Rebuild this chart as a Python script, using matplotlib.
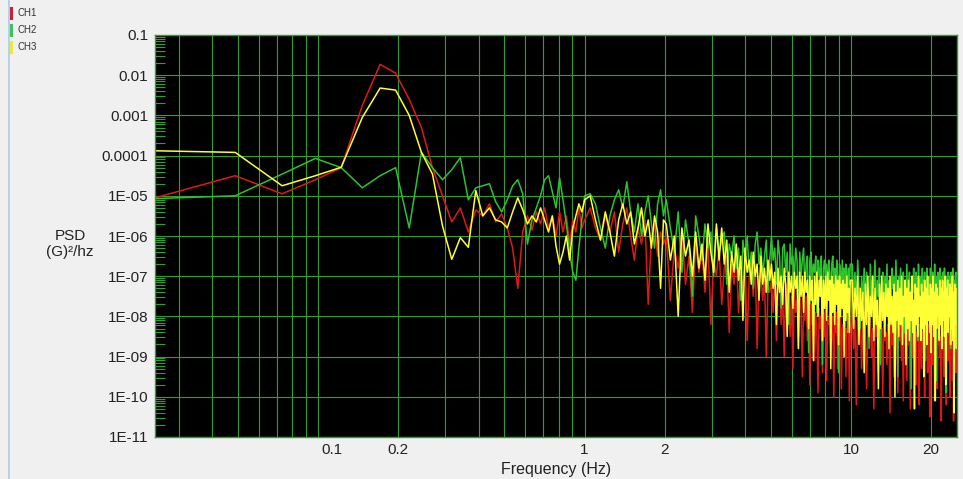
import numpy as np
import matplotlib
matplotlib.use("Agg")
import matplotlib.pyplot as plt
from matplotlib.lines import Line2D
from matplotlib.ticker import NullFormatter
from matplotlib.transforms import ScaledTranslation

plt.rcParams['font.family'] = ['Liberation Sans', 'DejaVu Sans']

# PSD bin width (Hz), 1024 bins up to 25 Hz
df = 25.0 / 1024

# bins drawn: every bin below 1 Hz, sparser above (the trace is a blur there anyway)
bins = np.concatenate([np.arange(1, 41), np.arange(41, 82, 2), np.arange(83, 204, 3),
                       np.arange(206, 408, 3), np.arange(414, 1025, 5)])

# log10 of PSD (G^2/Hz), one entry per drawn bin
ch1_log = [
    -5.05, -4.5, -4.95, -4.6, -4.3, -2.75, -1.73, -1.95, -2.6, -3.3,
    -4.3, -5.0, -5.65, -5.3, -5.9, -5.35, -5.5, -5.2, -5.65, -5.45,
    -5.8, -6.3, -7.3, -5.9, -5.5, -5.85, -5.4, -5.7, -5.3, -5.8,
    -5.5, -6.0, -5.4, -5.9, -5.5, -6.2, -5.6, -5.9, -5.3, -5.8,
    # 1-2 Hz
    -5.6, -5.3, -5.8, -6.1, -5.5, -5.9, -5.4, -6.4, -5.7, -5.3, -6.0,
    -6.6, -5.8, -6.2, -5.6, -7.7, -6.0, -5.7, -6.5, -5.9, -6.2,
    # 2-5 Hz
    -6.0, -7.6, -6.3, -6.8, -5.9, -7.2, -6.5, -7.9, -6.2, -6.9,
    -6.4, -7.4, -6.1, -8.2, -6.6, -7.0, -6.3, -7.7, -6.8, -6.5,
    -8.4, -6.7, -7.2, -6.4, -7.9, -6.9, -7.3, -6.6, -8.6, -7.0,
    -6.8, -7.5, -6.7, -8.8, -7.1, -6.9, -7.6, -7.0, -9.0, -7.2, -7.4,
    # 5-10 Hz
    -7.1, -7.9, -7.0, -8.6, -7.3, -7.0, -8.2, -7.4, -9.0, -7.2,
    -7.7, -7.1, -8.5, -7.5, -9.3, -7.3, -7.9, -7.6, -8.8, -7.4,
    -7.8, -9.5, -7.6, -8.1, -7.5, -8.6, -7.8, -9.7, -7.7, -8.2,
    -7.6, -9.1, -7.9, -8.4, -9.9, -7.8, -8.3, -8.0, -9.4, -7.9,
    -8.5, -7.8, -9.6, -8.1, -8.2, -7.9, -9.0, -8.3, -8.0, -10.0,
    -8.2, -8.4, -7.9, -9.3, -8.1, -8.6, -8.0, -9.8, -8.3, -8.2,
    -8.7, -8.0, -9.5, -8.3, -8.4, -8.1, -10.1, -8.3,
    # 10-25 Hz
    -7.9, -8.8, -8.1, -10.2, -7.8, -8.5, -8.0, -9.3, -8.2, -7.9,
    -8.6, -9.8, -8.1, -8.4, -8.0, -9.0, -8.3, -10.3, -8.1, -8.5,
    -8.2, -9.4, -8.0, -8.7, -8.3, -10.0, -8.1, -8.6, -8.4, -9.2,
    -8.2, -8.5, -10.4, -8.1, -8.7, -8.3, -9.5, -8.2, -8.4, -8.0,
    -9.9, -8.3, -8.6, -8.2, -9.1, -8.4, -10.1, -8.2, -8.5, -8.3,
    -9.6, -8.1, -8.7, -8.4, -10.3, -8.2, -8.6, -9.0, -8.3, -8.5,
    -8.2, -9.7, -8.4, -8.6, -8.3, -10.2, -8.2, -8.7, -9.3, -8.4,
    -8.5, -8.2, -10.0, -8.4, -8.6, -8.3, -9.4, -8.5, -8.2, -10.5,
    -8.3, -8.7, -8.4, -9.2, -8.2, -8.6, -10.1, -8.4, -8.5, -8.3,
    -9.8, -8.4, -8.7, -8.2, -9.0, -8.5, -10.6, -8.3, -8.6, -8.4,
    -9.5, -8.3, -8.7, -8.5, -10.2, -8.4, -8.6, -9.1, -8.3, -8.5,
    -10.0, -8.4, -8.7, -8.3, -9.6, -8.5, -10.6, -8.4, -8.6, -8.3,
    -9.4, -8.5, -8.7,
]

ch2_log = [
    -5.07, -5.0, -4.46, -4.07, -4.3, -4.8, -4.5, -4.3, -5.8, -3.92,
    -4.3, -4.6, -4.35, -4.05, -5.1, -4.8, -4.75, -4.7, -5.15, -5.4,
    -5.1, -4.75, -4.6, -4.95, -6.2, -5.6, -5.3, -5.0, -4.6, -4.5,
    -4.9, -5.3, -4.55, -5.1, -5.7, -6.4, -6.9, -7.1, -6.3, -5.6,
    # 1-2 Hz
    -5.0, -4.95, -5.2, -5.8, -6.3, -5.5, -5.1, -4.85, -5.3, -4.65, -5.4,
    -5.9, -5.2, -6.0, -5.4, -5.0, -5.7, -6.3, -5.2, -4.85, -5.5,
    # 2-5 Hz
    -5.1, -5.8, -6.4, -5.4, -6.9, -5.6, -6.2, -7.5, -5.5, -6.0,
    -6.6, -5.7, -6.3, -5.9, -7.0, -5.8, -6.4, -6.1, -5.9, -7.2,
    -6.2, -6.5, -6.0, -6.8, -6.3, -7.6, -6.1, -6.6, -6.0, -6.9,
    -6.4, -7.3, -6.2, -5.9, -6.7, -6.3, -7.0, -6.5, -6.1, -7.4, -6.6,
    # 5-10 Hz
    -6.0, -6.6, -6.3, -7.2, -6.1, -6.5, -7.8, -6.3, -6.2, -6.9,
    -6.4, -8.2, -6.2, -6.7, -6.5, -7.1, -6.3, -6.6, -8.5, -6.4,
    -7.0, -6.6, -6.3, -7.4, -6.7, -6.5, -8.9, -6.6, -6.4, -7.2,
    -6.7, -6.9, -6.5, -7.9, -6.6, -6.8, -7.3, -6.5, -9.2, -6.8,
    -6.6, -7.1, -6.7, -7.5, -6.6, -6.9, -8.1, -6.7, -6.5, -7.2,
    -6.8, -7.6, -6.6, -7.0, -9.4, -6.7, -6.9, -7.3, -6.6, -7.1,
    -6.8, -7.7, -6.7, -6.9, -8.4, -6.8, -7.2, -6.7,
    # 10-25 Hz
    -6.7, -7.5, -6.9, -7.8, -6.6, -7.3, -8.3, -7.0, -7.6, -6.8,
    -7.7, -6.9, -7.4, -8.8, -6.7, -7.6, -7.0, -7.3, -6.6, -7.9,
    -7.1, -7.5, -6.8, -9.2, -7.2, -6.9, -7.7, -7.0, -7.4, -6.7,
    -7.8, -7.1, -7.5, -8.1, -6.8, -7.3, -7.0, -7.7, -6.6, -7.5,
    -9.5, -7.0, -7.4, -6.8, -7.7, -7.2, -6.9, -8.4, -7.1, -7.6,
    -6.7, -7.8, -7.2, -6.9, -7.5, -9.8, -7.0, -7.4, -6.8, -7.7,
    -7.1, -6.9, -7.5, -8.6, -6.7, -7.6, -7.2, -7.0, -7.5, -6.8,
    -7.9, -7.2, -6.9, -9.1, -7.3, -6.8, -7.6, -7.1, -7.0, -7.7,
    -6.8, -7.4, -8.2, -6.9, -7.3, -7.6, -6.7, -7.4, -9.6, -7.0,
    -7.6, -6.9, -7.3, -7.8, -6.8, -7.5, -7.0, -8.5, -7.2, -6.9,
    -7.7, -6.8, -7.4, -9.9, -7.0, -7.6, -7.2, -6.9, -7.8, -7.0,
    -7.5, -8.8, -6.9, -7.3, -7.7, -6.8, -7.4, -7.1, -7.8, -7.0,
    -6.9, -7.5, -7.2,
]

ch3_log = [
    -3.88, -3.92, -4.75, -4.5, -4.29, -3.05, -2.32, -2.37, -3.0, -3.92,
    -4.46, -5.75, -6.58, -6.04, -6.28, -4.87, -5.5, -5.3, -5.6, -5.65,
    -5.8, -5.4, -5.05, -5.35, -5.7, -5.5, -5.65, -5.3, -5.6, -5.9,
    -5.5, -6.25, -6.7, -6.4, -6.0, -6.6, -5.8, -5.5, -5.2, -5.4,
    # 1-2 Hz
    -5.1, -5.0, -5.6, -6.1, -5.4, -5.9, -6.5, -5.6, -5.2, -5.7, -5.4,
    -6.2, -5.8, -5.3, -6.0, -5.6, -6.3, -5.5, -5.9, -7.3, -5.6,
    # 2-5 Hz
    -5.7, -6.6, -6.0, -8.0, -5.8, -6.5, -6.1, -7.0, -5.9, -6.8,
    -6.2, -7.1, -5.7, -6.4, -6.9, -5.7, -6.6, -5.8, -6.7, -6.1,
    -7.4, -6.4, -6.9, -6.2, -7.1, -6.5, -8.1, -6.3, -6.9, -6.6,
    -7.2, -6.4, -7.0, -6.7, -7.6, -6.5, -7.2, -6.8, -7.4, -6.6, -7.1,
    # 5-10 Hz
    -6.7, -7.3, -6.9, -8.2, -6.8, -7.4, -7.0, -7.7, -6.8, -7.2,
    -8.5, -6.9, -7.4, -7.0, -7.8, -6.9, -7.3, -7.0, -8.8, -6.9,
    -7.5, -7.0, -7.9, -6.9, -7.4, -7.1, -8.3, -7.0, -7.6, -7.1,
    -9.1, -7.0, -7.7, -6.9, -8.0, -7.1, -7.5, -7.0, -8.6, -7.1,
    -7.8, -7.0, -8.1, -6.9, -7.6, -7.1, -9.3, -7.0, -7.9, -7.2,
    -8.2, -7.0, -7.7, -7.1, -8.7, -7.0, -8.0, -7.2, -7.8, -7.1,
    -9.0, -7.2, -8.1, -7.0, -7.9, -7.3, -8.4, -7.1,
    # 10-25 Hz
    -7.1, -8.3, -7.3, -8.0, -7.0, -8.7, -7.3, -8.1, -7.4, -9.4,
    -7.2, -8.2, -7.0, -8.5, -7.5, -8.0, -7.0, -8.6, -7.3, -8.2,
    -7.6, -9.8, -7.2, -8.3, -7.0, -8.1, -7.4, -8.5, -7.2, -8.0,
    -7.3, -8.8, -7.0, -8.2, -7.5, -8.4, -7.2, -10.0, -7.4, -8.1,
    -7.1, -8.5, -7.3, -8.2, -7.0, -8.7, -7.5, -8.0, -7.1, -9.2,
    -7.3, -8.3, -7.1, -8.6, -7.4, -8.1, -7.0, -8.4, -7.6, -10.3,
    -7.2, -8.2, -7.3, -8.5, -7.0, -8.0, -7.5, -8.6, -7.2, -8.3,
    -7.4, -9.5, -7.1, -8.2, -7.3, -8.7, -7.0, -8.1, -7.5, -8.4,
    -7.2, -8.9, -7.3, -8.2, -7.0, -8.5, -7.4, -10.1, -7.2, -8.3,
    -7.3, -8.0, -7.5, -8.6, -7.1, -8.2, -7.3, -8.8, -7.1, -8.1,
    -7.4, -8.5, -7.0, -9.7, -7.3, -8.2, -7.1, -8.4, -7.5, -8.0,
    -7.2, -8.7, -7.3, -8.3, -7.0, -8.6, -7.4, -10.4, -7.2, -8.2,
    -7.3, -8.8, -7.6,
]

channels = ['CH1', 'CH2', 'CH3']
colors = ['#e01818', '#2cc42c', '#ffff33']
legend_colors = ['#c8203c', '#40c060', '#e8e840']

x_ticks = [0.1, 0.2, 1, 2, 10, 20]
x_tick_labels = ['0.1', '0.2', '1', '2', '10', '20']
x_minor = [0.03, 0.04, 0.05, 0.06, 0.07, 0.08, 0.09,
           0.3, 0.4, 0.5, 0.6, 0.7, 0.8, 0.9,
           3, 4, 5, 6, 7, 8, 9]
y_ticks = [1e-11, 1e-10, 1e-9, 1e-8, 1e-7, 1e-6, 1e-5, 1e-4, 1e-3, 1e-2, 1e-1]
y_tick_labels = ['1E-11', '1E-10', '1E-09', '1E-08', '1E-07', '1E-06', '1E-05',
                 '0.0001', '0.001', '0.01', '0.1']

grid_col = '#2f9f2f'
W, H = 963, 479

freq = bins * df

fig = plt.figure(figsize=(W / 100, H / 100), dpi=100, facecolor='#f0f0f0')
ax = fig.add_axes([155 / W, 1 - 437 / H, (957 - 155) / W, (437 - 35) / H])
ax.set_facecolor('black')

for vals, col in zip([ch1_log, ch2_log, ch3_log], colors):
    ax.plot(freq, 10.0 ** np.array(vals), color=col, lw=1.1)

ax.set_xscale('log')
ax.set_yscale('log')
ax.set_xlim(df, 1024 * df)
ax.set_ylim(1e-11, 0.1)

ax.set_xticks(x_ticks)
ax.set_xticklabels(x_tick_labels)
ax.set_xticks(x_minor, minor=True)
ax.xaxis.set_minor_formatter(NullFormatter())
ax.set_yticks(y_ticks)
ax.set_yticklabels(y_tick_labels)
y_minor = [m * 10.0 ** e for e in range(-11, -1) for m in range(2, 10)]
ax.set_yticks(y_minor, minor=True)
ax.yaxis.set_minor_formatter(NullFormatter())

ax.grid(True, which='both', axis='x', color=grid_col, lw=0.8)
ax.grid(True, which='major', axis='y', color=grid_col, lw=0.8)
ax.tick_params(axis='x', which='both', length=0, pad=4, labelsize=11, labelcolor='#222222')
ax.tick_params(axis='y', which='major', length=0, pad=5, labelsize=11, labelcolor='#222222')
ax.tick_params(axis='y', which='minor', direction='in', length=7, width=0.8, color=grid_col)
for s in ax.spines.values():
    s.set_color(grid_col)
    s.set_linewidth(1.0)

# the 0.1 label sits a bit right of its gridline in the original
for lbl in ax.get_xticklabels():
    if lbl.get_text() == '0.1':
        lbl.set_transform(lbl.get_transform() + ScaledTranslation(0.14, 0, fig.dpi_scale_trans))

ax.set_xlabel('Frequency (Hz)', fontsize=11.5, color='#222222', labelpad=4)
fig.text(70 / W, 1 - 244 / H, 'PSD\n(G)²/hz', ha='center', va='center',
         multialignment='center', fontsize=11, color='#222222')

# window border and the little legend in the corner
fig.add_artist(Line2D([8.5 / W, 8.5 / W], [0, 1], transform=fig.transFigure,
                      color='#a8cde8', lw=1.2))
for i, (name, col) in enumerate(zip(channels, legend_colors)):
    yc = 1 - (13 + 17 * i) / H
    fig.add_artist(Line2D([11 / W, 11 / W], [yc - 5 / H, yc + 5 / H],
                          transform=fig.transFigure, color=col, lw=2.2))
    fig.text(17 / W, yc, name, fontsize=7, va='center', color='#333333')

fig.savefig('out.png', dpi=100, facecolor=fig.get_facecolor())
